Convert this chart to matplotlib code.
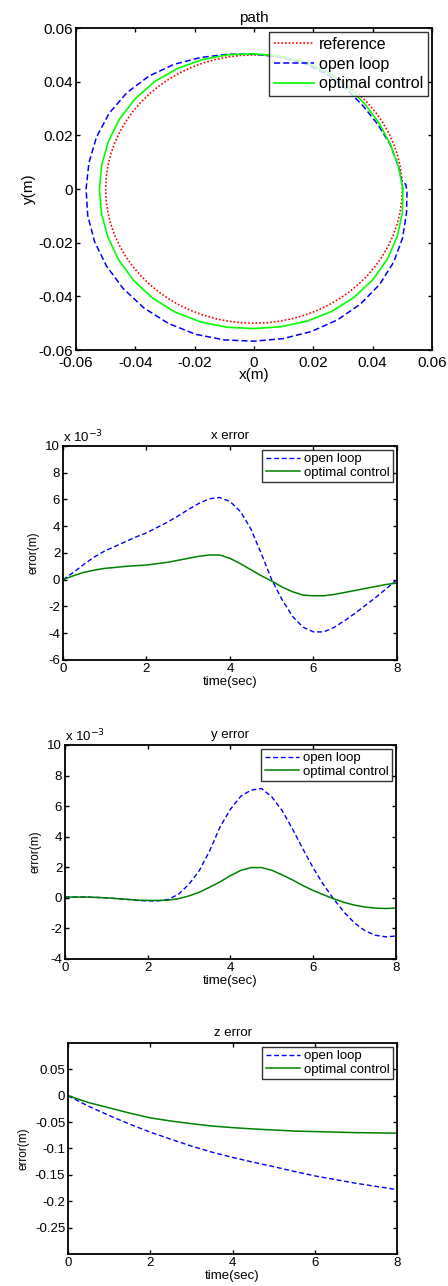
import numpy as np
import matplotlib
matplotlib.use("Agg")
import matplotlib.pyplot as plt

plt.rcParams['font.family'] = ['Liberation Sans', 'DejaVu Sans']

# ---- path data (metres) in polar form ----
ref_angle = np.arange(0, 361, 5)   # degrees
ref_radius = 0.05

open_angle = [3, 10, 20, 30, 40, 50, 60, 70, 80, 90, 100, 110, 120, 130, 140, 150, 160, 170,
              180, 190, 200, 210, 220, 230, 240, 250, 260, 270, 280, 290, 300, 310, 320, 330,
              340, 350, 359, 362, 363]
open_radius = [0.0500, 0.0494, 0.0488, 0.0482, 0.0481, 0.0486, 0.0493, 0.0498, 0.0500, 0.0503,
               0.0510, 0.0522, 0.0537, 0.0550, 0.0559, 0.0564, 0.0565, 0.0565, 0.0566, 0.0569,
               0.0572, 0.0574, 0.0576, 0.0578, 0.0578, 0.0576, 0.0571, 0.0567, 0.0566, 0.0565,
               0.0563, 0.0559, 0.0553, 0.0544, 0.0533, 0.0522, 0.0516, 0.0512, 0.0500]

opt_angle = [0, 10, 20, 30, 40, 50, 60, 70, 80, 90, 100, 110, 120, 130, 140, 150, 160, 170,
             180, 190, 200, 210, 220, 230, 240, 250, 260, 270, 280, 290, 300, 310, 320, 330,
             340, 350, 360]
opt_radius = [0.0502, 0.0494, 0.0489, 0.0488, 0.0490, 0.0495, 0.0500, 0.0503, 0.0503, 0.0504,
              0.0508, 0.0513, 0.0518, 0.0522, 0.0523, 0.0523, 0.0522, 0.0521, 0.0521, 0.0522,
              0.0524, 0.0527, 0.0530, 0.0531, 0.0530, 0.0527, 0.0523, 0.0520, 0.0521, 0.0524,
              0.0526, 0.0526, 0.0524, 0.0520, 0.0514, 0.0508, 0.0502]

# ---- error data ----
t = np.linspace(0, 8, 33)  # 0.25 s steps

# x error, units of 1e-3 m
x_err_open = [0, 0.55, 1.15, 1.7, 2.15, 2.5, 2.85, 3.2, 3.5, 3.9, 4.3, 4.75, 5.25, 5.7, 6.05, 6.15,
              5.85, 5.1, 3.8, 1.95, 0.0, -1.5, -2.75, -3.55, -3.9, -3.9, -3.55, -3.05, -2.5, -1.9,
              -1.3, -0.65, 0.0]
x_err_opt = [0, 0.3, 0.55, 0.72, 0.85, 0.92, 1.0, 1.05, 1.1, 1.2, 1.3, 1.45, 1.6, 1.75, 1.85, 1.85,
             1.6, 1.2, 0.75, 0.3, -0.1, -0.55, -0.9, -1.15, -1.2, -1.2, -1.1, -0.95, -0.8, -0.65,
             -0.5, -0.35, -0.25]

# y error, units of 1e-3 m
y_err_open = [0.05, 0.05, 0.05, 0.03, 0, -0.05, -0.1, -0.17, -0.2, -0.2, -0.1, 0.25, 0.9, 1.8,
              3.1, 4.65, 5.8, 6.65, 7.05, 7.15, 6.6, 5.7, 4.5, 3.2, 1.95, 0.85, -0.1, -0.95,
              -1.65, -2.15, -2.45, -2.55, -2.5]
y_err_opt = [0.05, 0.05, 0.05, 0.03, 0, -0.05, -0.1, -0.15, -0.17, -0.17, -0.15, -0.05, 0.13, 0.37,
             0.7, 1.05, 1.45, 1.8, 1.98, 1.98, 1.8, 1.5, 1.17, 0.8, 0.48, 0.2, -0.07, -0.3, -0.48,
             -0.6, -0.67, -0.7, -0.67]

# z error, metres
t_z = np.linspace(0, 8, 17)  # 0.5 s steps
z_err_open = [0, -0.02, -0.0375, -0.054, -0.069, -0.0825, -0.0955, -0.107, -0.117, -0.126,
              -0.1345, -0.1435, -0.152, -0.159, -0.166, -0.172, -0.178]
z_err_opt = [0, -0.013, -0.023, -0.033, -0.042, -0.048, -0.053, -0.0575, -0.0605, -0.063,
             -0.065, -0.067, -0.068, -0.069, -0.070, -0.0705, -0.071]

BLUE = (0, 0, 1)
RED = (1, 0, 0)
LIME = (0, 1, 0)
DKGREEN = (0, 0.5, 0)


def matlab_style(ax, fs):
    # inward ticks on every side, thick black box
    for s in ax.spines.values():
        s.set_linewidth(1.3)
        s.set_color('black')
    ax.tick_params(direction='in', top=True, right=True, length=3, width=1,
                   labelsize=fs, pad=2)


def fmt(v):
    s = ('%g' % round(v, 4))
    return '0' if s in ('0', '-0') else s


def polar_xy(angle_deg, radius):
    a = np.radians(angle_deg)
    return radius * np.cos(a), radius * np.sin(a)


fig = plt.figure(figsize=(4.48, 12.86), dpi=100)

# ---------------- path ----------------
PFS = 11
ax = fig.add_axes([0.1696, 0.7278, 0.7946, 0.2504])
rx, ry = polar_xy(ref_angle, ref_radius)
ax.plot(rx, ry, color=RED, ls=(0, (1, 1.2)), lw=1.2, label='reference')
ox, oy = polar_xy(np.array(open_angle), np.array(open_radius))
ax.plot(ox, oy, color=BLUE, ls=(0, (4, 2)), lw=1.1, label='open loop')
gx, gy = polar_xy(np.array(opt_angle), np.array(opt_radius))
ax.plot(gx, gy, color=LIME, lw=1.2, label='optimal control')
ax.set_xlim(-0.06, 0.06)
ax.set_ylim(-0.06, 0.06)
ticks = np.arange(-0.06, 0.0601, 0.02)
ax.set_xticks(ticks)
ax.set_yticks(ticks)
ax.set_xticklabels([fmt(v) for v in ticks])
ax.set_yticklabels([fmt(v) for v in ticks])
matlab_style(ax, PFS)
ax.tick_params(axis='x', pad=4)
ax.set_title('path', fontsize=PFS, pad=4)
ax.set_xlabel('x(m)', fontsize=PFS, labelpad=-1)
ax.set_ylabel('y(m)', fontsize=PFS, labelpad=2)
leg = ax.legend(loc='upper right', fontsize=11.5, frameon=True, fancybox=False,
                borderaxespad=0.25, handlelength=2.5, handletextpad=0.3,
                borderpad=0.3, labelspacing=0.3)
leg.get_frame().set_edgecolor('black')
leg.get_frame().set_linewidth(1.0)

EFS = 9.5


def error_axes(rect, tt, y_open, y_opt, title, ylim, yticks, scale_note):
    a = fig.add_axes(rect)
    a.plot(tt, y_open, color=BLUE, ls=(0, (3.5, 2)), lw=1.0, label='open loop')
    a.plot(tt, y_opt, color=DKGREEN, lw=1.1, label='optimal control')
    a.set_xlim(0, 8)
    a.set_ylim(*ylim)
    a.set_xticks([0, 2, 4, 6, 8])
    a.set_yticks(yticks)
    a.set_yticklabels([fmt(v) for v in yticks])
    matlab_style(a, EFS)
    a.set_title(title, fontsize=EFS, pad=5)
    a.set_xlabel('time(sec)', fontsize=EFS, labelpad=1)
    a.set_ylabel('error(m)', fontsize=8.5, labelpad=4)
    lg = a.legend(loc='upper right', fontsize=EFS, frameon=True, fancybox=False,
                  borderaxespad=0.3, handlelength=2.6, handletextpad=0.3,
                  borderpad=0.25, labelspacing=0.1)
    lg.get_frame().set_edgecolor('black')
    lg.get_frame().set_linewidth(1.0)
    if scale_note:
        a.text(0.0, 1.005, r'x 10$^{-3}$', transform=a.transAxes, fontsize=EFS,
               ha='left', va='bottom')
    return a


error_axes([0.1406, 0.4868, 0.7455, 0.1664], t, x_err_open, x_err_opt, 'x error',
           (-6, 10), np.arange(-6, 10.1, 2), True)
error_axes([0.1451, 0.2543, 0.7388, 0.1664], t, y_err_open, y_err_opt, 'y error',
           (-4, 10), np.arange(-4, 10.1, 2), True)
error_axes([0.1518, 0.0249, 0.7344, 0.1641], t_z, z_err_open, z_err_opt, 'z error',
           (-0.3, 0.1), np.arange(-0.25, 0.051, 0.05), False)

fig.savefig('out.png', dpi=100)
